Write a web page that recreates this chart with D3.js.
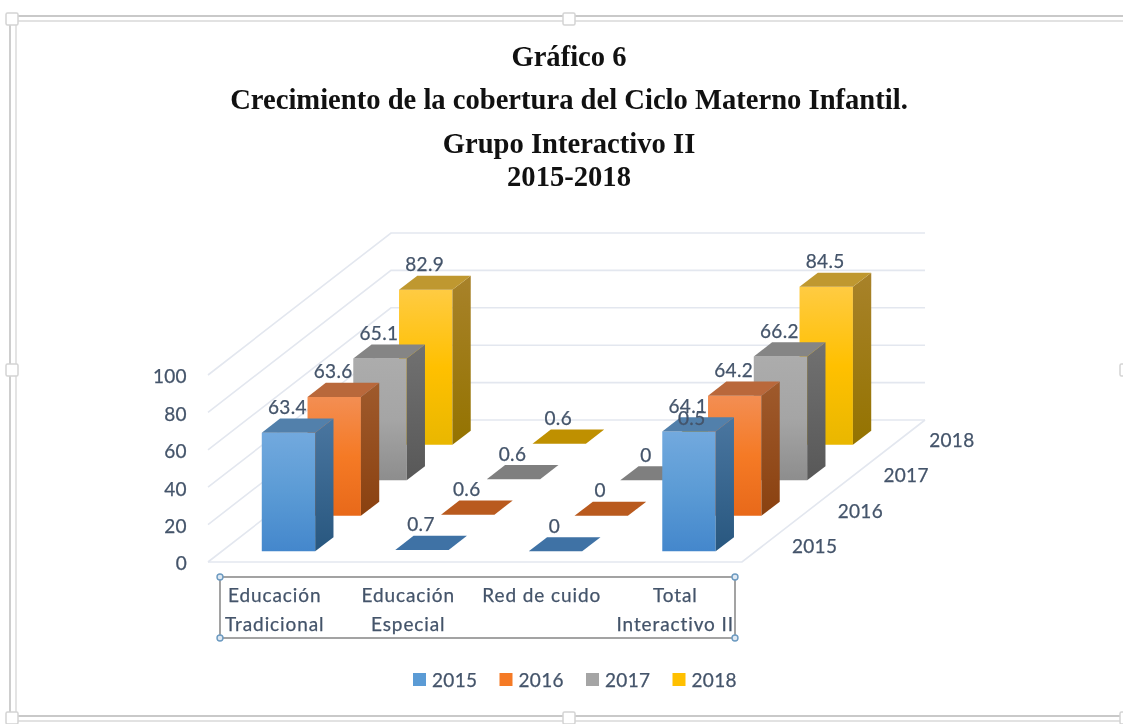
<!DOCTYPE html>
<html>
<head>
<meta charset="utf-8">
<script src="https://cdn.jsdelivr.net/npm/d3@7"></script>
<style>
html,body{margin:0;padding:0;background:#fff;overflow:hidden}
svg{display:block;filter:blur(0.5px)}
</style>
</head>
<body>
<div id="chart"></div>
<script>
const titleLines = ["Gráfico 6","Crecimiento de la cobertura del Ciclo Materno Infantil.","Grupo Interactivo II","2015-2018"];
const categories = ["Educación Tradicional","Educación Especial","Red de cuido","Total Interactivo II"];
const categoryLines = [["Educación","Tradicional"],["Educación","Especial"],["Red de cuido"],["Total","Interactivo II"]];
const years = ["2015","2016","2017","2018"];
const values2015 = [63.4,0.7,0,64.1];
const values2016 = [63.6,0.6,0,64.2];
const values2017 = [65.1,0.6,0,66.2];
const values2018 = [82.9,0.6,0.5,84.5];
const yTicks = [0,20,40,60,80,100];

const seriesValues = [values2015,values2016,values2017,values2018];
const palette = [
  {g:["#72a9de","#5b9bd5","#4487cc"],side:["#4a76a0","#28577f"],top:"#5280ab",flat:"#3f72a5"},
  {g:["#f38e53","#f57a25","#e8691a"],side:["#9f5a2c","#8a4110"],top:"#b9683b",flat:"#b95a1e"},
  {g:["#acacac","#a5a5a5","#8d8d8d"],side:["#717171","#585858"],top:"#858585",flat:"#7f7f7f"},
  {g:["#ffcb42","#ffc000","#e9b700"],side:["#a8822a","#947300"],top:"#bf9830",flat:"#bf9000"}
];

const W=1123,H=724;
const svg=d3.select("#chart").append("svg").attr("width",W).attr("height",H);
const font="Lato, 'Open Sans', sans-serif", ink="#44546a";
const styleText=sel=>sel.attr("font-family",font).attr("font-size",19).attr("letter-spacing",0.35)
  .attr("fill",ink).attr("stroke",ink).attr("stroke-width",0.25);

// scales
const x=d3.scaleBand().domain(categories).range([208,742]).paddingInner(0.6).paddingOuter(0.3);
const y=d3.scaleLinear().domain([0,100]).range([562,375]);
const depth=d3.scaleBand().domain(years).range([0,1]).paddingInner(0.6).paddingOuter(0.3);
const depthX=d3.scaleLinear().domain([0,1]).range([0,183]);
const depthY=d3.scaleLinear().domain([0,1]).range([0,-142]);
const P=(cx,v,d)=>[cx+depthX(d),y(v)+depthY(d)];
const poly=d3.line();

// frame
const frameG=svg.append("g").attr("fill","none");
[[10,16,1123,716,"#c9c9c9"],[16,21,1123,721,"#e2e2e2"]].forEach(f=>{
  frameG.append("path").attr("d",`M${f[2]} ${f[1]}H${f[0]}V${f[3]}H${f[2]}`).attr("stroke",f[4]).attr("stroke-width",1.8);
});
[[6,13],[563,13],[6,364],[1120,364],[6,712],[563,712],[1120,712]].forEach(h=>{
  frameG.append("rect").attr("x",h[0]).attr("y",h[1]).attr("width",12).attr("height",12).attr("rx",1.5)
    .attr("fill","#fff").attr("stroke","#d4d4d4").attr("stroke-width",1.5);
});

// titles
const titleY=[66,109,153,186];
svg.append("g").selectAll("text").data(titleLines).join("text")
  .attr("x",569).attr("y",(d,i)=>titleY[i]).attr("text-anchor","middle")
  .attr("font-family","'Liberation Serif',serif").attr("font-weight","700").attr("font-size",28.6).attr("fill","#111")
  .text(d=>d);

// gradients
const defs=svg.append("defs");
palette.forEach((p,i)=>{
  const f=defs.append("linearGradient").attr("id","f"+i).attr("x1",0).attr("x2",0).attr("y1",0).attr("y2",1);
  p.g.forEach((c,k)=>f.append("stop").attr("offset",k/2).attr("stop-color",c));
  const s=defs.append("linearGradient").attr("id","s"+i).attr("x1",0).attr("x2",0).attr("y1",0).attr("y2",1);
  p.side.forEach((c,k)=>s.append("stop").attr("offset",k).attr("stop-color",c));
});

// walls, floor, grid
const x0=208,x1=742;
const grid=svg.append("g").attr("fill","none").attr("stroke","#e3e7ef").attr("stroke-width",1.6);
yTicks.forEach(t=>{
  grid.append("path").attr("d",poly([P(x0,t,0),P(x0,t,1),P(x1,t,1)]));
});
grid.append("path").attr("d",poly([P(x0,0,0),P(x1,0,0),P(x1,0,1)]));

// bars back to front
const bars=svg.append("g");
const bw=x.bandwidth(), dw=depth.bandwidth();
for(let s=years.length-1;s>=0;s--){
  const d0=depth(years[s]), d1=d0+dw;
  categories.forEach((c,ci)=>{
    const v=seriesValues[s][ci], l=x(c), r=l+bw, p=palette[s];
    const g=bars.append("g");
    if(v>=5){
      g.append("path").attr("d",poly([P(l,0,d0),P(r,0,d0),P(r,v,d0),P(l,v,d0)])+"Z").attr("fill",`url(#f${s})`);
      g.append("path").attr("d",poly([P(r,0,d0),P(r,0,d1),P(r,v,d1),P(r,v,d0)])+"Z").attr("fill",`url(#s${s})`);
      g.append("path").attr("d",poly([P(l,v,d0),P(r,v,d0),P(r,v,d1),P(l,v,d1)])+"Z").attr("fill",p.top);
    } else {
      g.append("path").attr("d",poly([P(l,v,d0),P(r,v,d0),P(r,v,d1),P(l,v,d1)])+"Z").attr("fill",p.flat);
    }
  });
}

// data labels
const labels=svg.append("g").attr("text-anchor","middle").call(styleText);
years.forEach((yr,s)=>{
  categories.forEach((c,ci)=>{
    const v=seriesValues[s][ci];
    const pt=P(x(c)+bw/2,v,depth(yr));
    const back=P(x(c)+bw/2,v,depth(yr)+dw);
    labels.append("text").attr("x",pt[0]-1).attr("y",back[1]-4.5).text(v);
  });
});

// y axis
const yAxis=svg.append("g").attr("transform","translate(187,0)")
  .call(d3.axisLeft(y).tickValues(yTicks).tickSize(0).tickPadding(0));
yAxis.select(".domain").remove();
yAxis.selectAll("text").call(styleText).attr("dy","0.42em");

// depth axis
const depthLabels=svg.append("g").call(styleText);
years.forEach(yr=>{
  const d=depth(yr)+dw/2, pt=P(x1,0,d);
  depthLabels.append("text").attr("x",pt[0]+27).attr("y",pt[1]+9).text(yr);
});

// category axis box
const box=svg.append("g");
box.append("rect").attr("x",220).attr("y",577).attr("width",515).attr("height",61)
  .attr("fill","none").attr("stroke","#8c8c8c").attr("stroke-width",1.6);
[[220,577],[735,577],[220,638],[735,638]].forEach(h=>{
  box.append("circle").attr("cx",h[0]).attr("cy",h[1]).attr("r",3).attr("fill","#dfe9f3").attr("stroke","#6c9ac0").attr("stroke-width",1.4);
});
categories.forEach((c,i)=>{
  box.append("g").selectAll("text").data(categoryLines[i]).join("text")
    .attr("x",x(c)+bw/2).attr("y",(d,k)=>602+k*29).attr("text-anchor","middle")
    .call(styleText).attr("letter-spacing",0.9).text(d=>d);
});

// legend
const legendX=d3.scaleBand().domain(years).range([413,759]).padding(0);
const legend=svg.append("g");
years.forEach((yr,s)=>{
  const lx=legendX(yr);
  legend.append("rect").attr("x",lx).attr("y",673).attr("width",13).attr("height",13).attr("fill",palette[s].g[1]);
  legend.append("text").attr("x",lx+19).attr("y",687).call(styleText).text(yr);
});
</script>
</body>
</html>
